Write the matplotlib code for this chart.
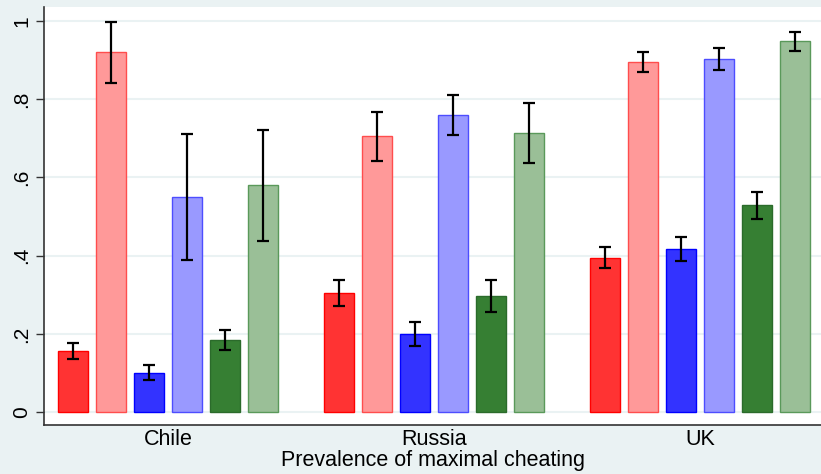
import matplotlib.pyplot as plt
import numpy as np

# Data
countries = ["Chile", "Russia", "UK"]
series_names = ["s1", "s2", "s3", "s4", "s5", "s6"]

means = [
    [0.157, 0.920, 0.101, 0.550, 0.184, 0.580],   # Chile
    [0.305, 0.705, 0.200, 0.760, 0.296, 0.714],   # Russia
    [0.395, 0.895, 0.417, 0.902, 0.529, 0.948],   # UK
]
lower = [
    [0.136, 0.842, 0.082, 0.390, 0.159, 0.438],
    [0.272, 0.641, 0.170, 0.708, 0.255, 0.638],
    [0.369, 0.870, 0.387, 0.875, 0.495, 0.924],
]
upper = [
    [0.177, 0.998, 0.120, 0.711, 0.210, 0.722],
    [0.338, 0.768, 0.230, 0.810, 0.338, 0.790],
    [0.421, 0.921, 0.448, 0.930, 0.563, 0.973],
]

face_colors = ["#ff3333", "#ff9999", "#3333ff", "#9999ff", "#367f33", "#9abf97"]
edge_colors = ["#ff0000", "#ff4d4d", "#0000ff", "#4d4dff", "#2b6b2b", "#5a995a"]

bg = "#eaf2f3"
plt.rcParams['font.family'] = ['Liberation Sans', 'DejaVu Sans']

fig = plt.figure(figsize=(8.21, 4.74), dpi=100, facecolor=bg)
ax = fig.add_axes([44 / 821, 49 / 474, 1 - 44 / 821, (425 - 7) / 474])
ax.set_facecolor("white")

n = len(series_names)
for g, country in enumerate(countries):
    for i in range(n):
        x = g * 7 + i
        m = means[g][i]
        ax.bar(x, m, width=0.79, color=face_colors[i], edgecolor=edge_colors[i],
               linewidth=1.0, zorder=3)
        ax.errorbar(x, m, yerr=[[m - lower[g][i]], [upper[g][i] - m]], fmt='none',
                    ecolor='black', elinewidth=1.6, capsize=4, capthick=1.6, zorder=4)

ax.set_xlim(-0.763, 19.68)
ax.set_ylim(-0.033, 1.036)

yt = [0, 0.2, 0.4, 0.6, 0.8, 1.0]
ax.set_yticks(yt)
ax.set_yticklabels(["0", ".2", ".4", ".6", ".8", "1"], rotation=90, va='center',
                   fontsize=15)
ax.tick_params(axis='y', length=6, width=1, color='#333333', pad=3)
ax.yaxis.grid(True, color=bg, linewidth=1.5, zorder=0)
ax.set_axisbelow(True)

ax.set_xticks([g * 7 + 2.5 for g in range(len(countries))])
ax.set_xticklabels(countries, fontsize=15.5)
ax.tick_params(axis='x', length=0, pad=3)
ax.set_xlabel("Prevalence of maximal cheating", fontsize=15.5, labelpad=0)

for s in ['top', 'right']:
    ax.spines[s].set_visible(False)
ax.spines['left'].set_color('#333333')
ax.spines['bottom'].set_color('#333333')
ax.spines['left'].set_linewidth(1.2)
ax.spines['bottom'].set_linewidth(1.2)

fig.savefig("out.png", dpi=100, facecolor=bg)
